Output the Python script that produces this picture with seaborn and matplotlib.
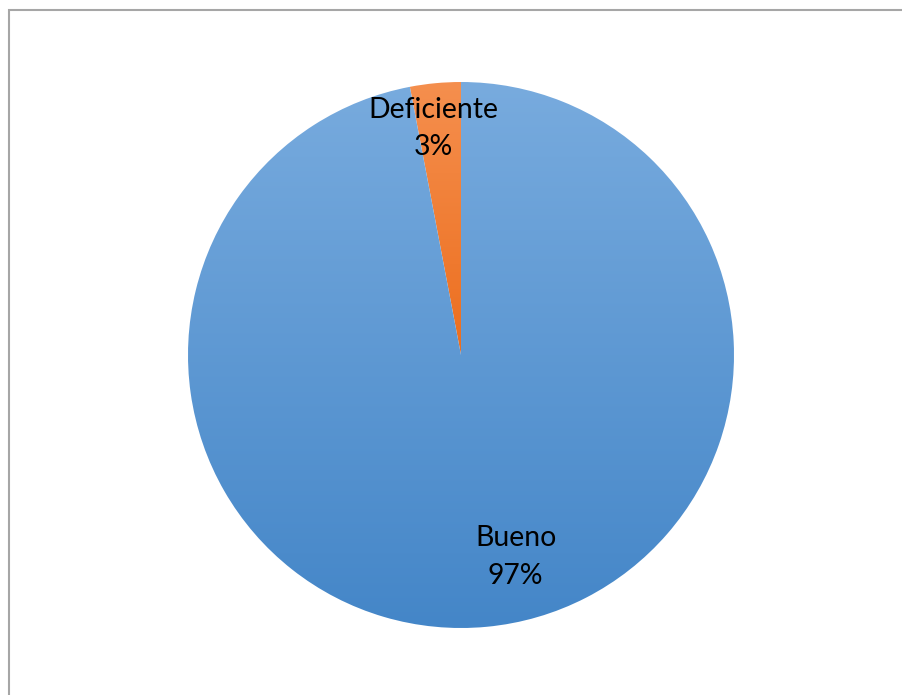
import numpy as np
import matplotlib
matplotlib.use("Agg")
import matplotlib.pyplot as plt
import matplotlib.colors as mcolors
import seaborn as sns

sns.set_theme(style="white")
plt.rcParams["font.family"] = ["Lato", "DejaVu Sans"]

# Data
categories = ["Deficiente", "Bueno"]
percentages = [3, 97]
# gradient ends (top, bottom) for each slice
top_colors = ["#F58F4E", "#78ABDE"]
bottom_colors = ["#EC6E1E", "#4486C8"]

W, H, DPI = 903, 695, 100
fig = plt.figure(figsize=(W / DPI, H / DPI), dpi=DPI)
fig.patch.set_facecolor("white")

# outer chart frame
fig.add_artist(plt.Rectangle((8.5 / W, -0.01), 1.05, 1 - 9.5 / H + 0.01,
                             transform=fig.transFigure, fill=False,
                             edgecolor="#A6A6A6", linewidth=1.5))

cx, cy, r = 461, 355, 273
ax = fig.add_axes([(cx - r) / W, (H - cy - r) / H, 2 * r / W, 2 * r / H])
ax.set_aspect("equal")
ax.axis("off")

wedges, _ = ax.pie(percentages, startangle=90, counterclock=True, radius=1,
                   colors=["none", "none"], wedgeprops=dict(linewidth=0))

# vertical gradient fill clipped to each wedge
grad = np.linspace(0, 1, 256).reshape(-1, 1)
for i, (w, ct, cb) in enumerate(zip(wedges, top_colors, bottom_colors)):
    cmap = mcolors.LinearSegmentedColormap.from_list(f"g{i}", [cb, ct])
    y0, y1 = (0, 1) if i == 0 else (-1, 1)
    im = ax.imshow(grad, extent=(-1, 1, y0, y1), origin="lower", cmap=cmap,
                   aspect="auto", interpolation="bilinear", zorder=1)
    im.set_clip_path(w)

ax.set_xlim(-1, 1)
ax.set_ylim(-1, 1)

# data labels
label_pos = [(-0.103, 0.83), (0.2, -0.74)]
for (x, y), cat, pct in zip(label_pos, categories, percentages):
    ax.text(x, y, f"{cat}\n{pct}%", ha="center", va="center", fontsize=20.4,
            color="black", linespacing=1.55, zorder=5)

fig.savefig("out.png", dpi=DPI, facecolor="white")
